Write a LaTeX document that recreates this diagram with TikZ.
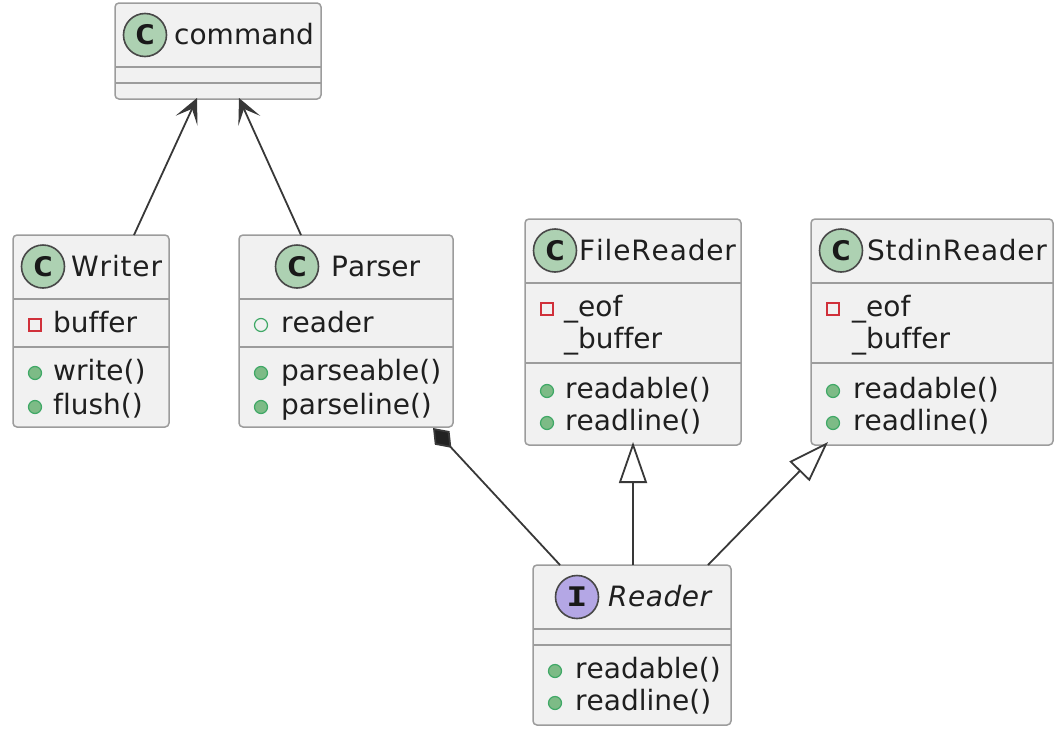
\documentclass[tikz,border=0pt]{standalone}
\usepackage{fontspec}
\setmainfont[Ligatures=NoCommon,Kerning=Off]{DejaVu Sans}
\newfontfamily\spotfont[FakeStretch=1.3]{DejaVu Sans Mono}
\usetikzlibrary{arrows.meta,calc}
\definecolor{bordergrey}{HTML}{9C9C9C}
\definecolor{boxfill}{HTML}{F1F1F1}
\definecolor{linedark}{HTML}{383838}
\definecolor{spotgreen}{HTML}{ADD1B2}
\definecolor{spotpurple}{HTML}{B4A7E5}
\definecolor{ringdark}{HTML}{484848}
\definecolor{pubgreen}{HTML}{7DBB86}
\definecolor{pubedge}{HTML}{3FA866}
\definecolor{privred}{HTML}{D0303A}
\tikzset{
  umlbox/.style={draw=bordergrey,fill=boxfill,line width=1.5pt,rounded corners=4pt,inner sep=0pt,outer sep=0pt,anchor=north west},
  sepline/.style={draw=bordergrey,line width=1.5pt},
  spot/.style={circle,draw=ringdark,line width=1.6pt,minimum size=43pt,inner sep=0pt,font=\fontsize{27}{27}\selectfont\spotfont\bfseries,text=black!90},
  classtext/.style={anchor=base west,inner sep=0pt,font=\fontsize{28}{28}\selectfont,text=black!88},
  pubicon/.style={circle,fill=pubgreen,draw=pubedge,line width=1.2pt,minimum size=13pt,inner sep=0pt},
  fieldicon/.style={circle,fill=boxfill,draw=pubedge,line width=1.2pt,minimum size=13pt,inner sep=0pt},
  privicon/.style={rectangle,fill=none,draw=privred,line width=1.6pt,minimum size=12pt,inner sep=0pt},
  link/.style={draw=linedark,line width=1.8pt},
}
\begin{document}
\begin{tikzpicture}[x=1pt,y=-1pt]
\useasboundingbox (0,0) rectangle (1064,736);
% boxes
\node[umlbox,minimum width=206pt,minimum height=96pt] (command) at (115,3) {};
\node[umlbox,minimum width=156pt,minimum height=192pt] (writer) at (13,235) {};
\node[umlbox,minimum width=214pt,minimum height=192pt] (parser) at (239,235) {};
\node[umlbox,minimum width=216pt,minimum height=226pt] (filereader) at (525,219) {};
\node[umlbox,minimum width=242pt,minimum height=226pt] (stdinreader) at (811,219) {};
\node[umlbox,minimum width=198pt,minimum height=160pt] (reader) at (533,565) {};
% separators
\draw[sepline] (115,67) -- (321,67) (115,83) -- (321,83);
\draw[sepline] (13,299) -- (169,299) (13,347) -- (169,347);
\draw[sepline] (239,299) -- (453,299) (239,347) -- (453,347);
\draw[sepline] (525,283) -- (741,283) (525,363) -- (741,363);
\draw[sepline] (811,283) -- (1053,283) (811,363) -- (1053,363);
\draw[sepline] (533,629) -- (731,629) (533,645) -- (731,645);
% spots
\node[spot,fill=spotgreen] (s1) at (145,35) {C};
\node[spot,fill=spotgreen] (s2) at (43,266.500) {C};
\node[spot,fill=spotgreen] (s3) at (297,266.500) {C};
\node[spot,fill=spotgreen] (s4) at (555,250.500) {C};
\node[spot,fill=spotgreen] (s5) at (841,250.500) {C};
\node[spot,fill=spotpurple] (s6) at (577,597) {I};
% names
\node[classtext] (t1) at (174,44) {command};
\node[classtext] (t2) at (71,276) {\addfontfeature{LetterSpace=3}Writer};
\node[classtext] (t3) at (331,276) {Parser};
\node[classtext] (t4) at (579,260) {\addfontfeature{LetterSpace=3}FileReader};
\node[classtext] (t5) at (867,260) {\addfontfeature{LetterSpace=2.6}StdinReader};
\node[classtext,font=\fontsize{28}{28}\selectfont\itshape] (t6) at (608,606) {\addfontfeature{LetterSpace=1.8}Reader};
% Writer members
\node[privicon] (i1) at (35,325) {};
\node[classtext] (m1) at (53,332) {buffer};
\node[pubicon] (i2) at (35,373) {};
\node[classtext] (m2) at (53,380) {write()};
\node[pubicon] (i3) at (35,407) {};
\node[classtext] (m3) at (53,414) {flush()};
% Parser members
\node[fieldicon] (i4) at (261,325) {};
\node[classtext] (m4) at (281,332) {reader};
\node[pubicon] (i5) at (261,373) {};
\node[classtext] (m5) at (281,380) {parseable()};
\node[pubicon] (i6) at (261,407) {};
\node[classtext] (m6) at (281,414) {parseline()};
% FileReader members
\node[privicon] (i7) at (547,309) {};
\node[classtext] (m7) at (564,316) {\_eof};
\node[classtext] (m8) at (564,348) {\_buffer};
\node[pubicon] (i8) at (547,391) {};
\node[classtext] (m9) at (565,398) {readable()};
\node[pubicon] (i9) at (547,423) {};
\node[classtext] (m10) at (565,430) {readline()};
% StdinReader members
\node[privicon] (i10) at (833,309) {};
\node[classtext] (m11) at (852,316) {\_eof};
\node[classtext] (m12) at (852,348) {\_buffer};
\node[pubicon] (i11) at (833,391) {};
\node[classtext] (m13) at (853,398) {readable()};
\node[pubicon] (i12) at (833,423) {};
\node[classtext] (m14) at (853,430) {readline()};
% Reader members
\node[pubicon] (i13) at (555,671) {};
\node[classtext] (m15) at (575,678) {readable()};
\node[pubicon] (i14) at (555,703) {};
\node[classtext] (m16) at (575,710) {readline()};
% connectors
\draw[link,-{Stealth[length=25pt,width=24pt,inset=13pt,fill=linedark]}] ([xshift=121pt]writer.north west) -- ([xshift=82pt,yshift=1pt]command.south west);
\draw[link,-{Stealth[length=25pt,width=24pt,inset=13pt,fill=linedark]}] ([xshift=62pt]parser.north west) -- ([xshift=124pt,yshift=1pt]command.south west);
\draw[link,-{Triangle[open,length=41pt,width=28pt,fill=white]}] ([xshift=100pt]reader.north west) -- ([xshift=108pt,yshift=3pt]filereader.south west);
\draw[link,-{Triangle[open,length=41pt,width=28pt,fill=white]}] ([xshift=175pt]reader.north west) -- ([xshift=17pt,yshift=3pt]stdinreader.south west);
\draw[link,-{Diamond[length=27pt,width=20pt,fill=linedark!60!black]}] ([xshift=27pt]reader.north west) -- ([xshift=-20pt,yshift=-1pt]parser.south east);
\end{tikzpicture}
\end{document}
